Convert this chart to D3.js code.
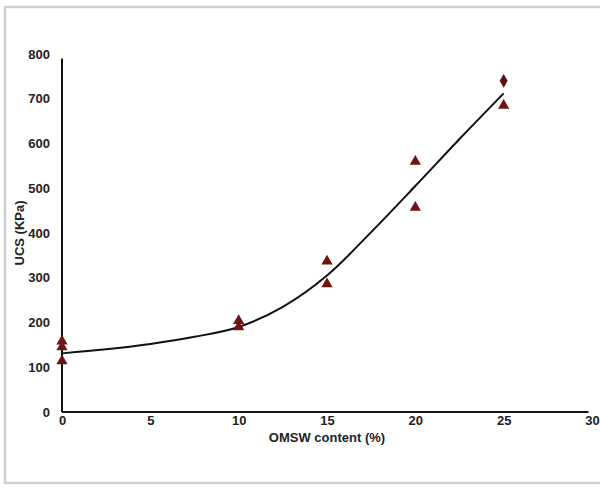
<!DOCTYPE html>
<html>
<head>
<meta charset="utf-8">
<script src="https://cdn.jsdelivr.net/npm/d3@7"></script>
<style>
  html, body { margin: 0; padding: 0; background: #fff; }
  svg { display: block; }
  text { font-family: "Liberation Sans", Arial, sans-serif; }
</style>
</head>
<body>
<script>
// ---- data ----
const xTicks = [0, 5, 10, 15, 20, 25, 30];
const yTicks = [0, 100, 200, 300, 400, 500, 600, 700, 800];
const triX = [0, 0, 0, 10, 10, 15, 15, 20, 20, 25];
const triY = [158, 145, 114, 204, 190, 337, 286, 560, 457, 685];
const diamondX = [25];
const diamondY = [740];
const fitX = [0, 2.5, 5, 7.5, 10, 12.5, 15, 17.5, 20, 22.5, 25];
const fitY = [131, 140, 152, 168, 190, 235, 305, 402, 505, 610, 712];

const W = 600, H = 487;
const svg = d3.select("body").append("svg").attr("width", W).attr("height", H);

// outer frame
svg.append("rect").attr("x", 5).attr("y", 7).attr("width", 620).attr("height", 476)
  .attr("fill", "#fff").attr("stroke", "#cfcfcf").attr("stroke-width", 2.5);

const x = d3.scaleLinear().domain([0, 30]).range([62, 592]);
const y = d3.scaleLinear().domain([0, 800]).range([412, 54]);

// axes
const gx = svg.append("g").attr("transform", `translate(0,${y(0)})`)
  .call(d3.axisBottom(x).tickValues(xTicks).tickSize(0).tickPadding(4));
gx.select(".domain").attr("stroke", "#111").attr("stroke-width", 2).attr("d", `M${x(0)},0H${x(29.8)}`);
gx.selectAll("text").attr("font-size", 13).attr("font-weight", "bold").attr("fill", "#222");

const gy = svg.append("g").attr("transform", `translate(${x(0)},0)`)
  .call(d3.axisLeft(y).tickValues(yTicks).tickSize(0).tickPadding(12));
gy.select(".domain").attr("stroke", "#111").attr("stroke-width", 2).attr("d", `M0,${y(0)}V${y(790)}`);
gy.selectAll("text").attr("font-size", 13).attr("font-weight", "bold").attr("fill", "#222");

// axis titles
svg.append("text").attr("x", (x(0) + x(30)) / 2).attr("y", 442)
  .attr("text-anchor", "middle").attr("font-size", 13).attr("font-weight", "bold").attr("fill", "#222")
  .text("OMSW content (%)");
svg.append("text").attr("transform", `translate(24,${y(400)}) rotate(-90)`)
  .attr("text-anchor", "middle").attr("font-size", 13).attr("font-weight", "bold").attr("fill", "#222")
  .text("UCS (KPa)");

// fit curve
const fit = fitX.map((d, i) => [d, fitY[i]]);
svg.append("path").datum(fit)
  .attr("fill", "none").attr("stroke", "#111").attr("stroke-width", 2)
  .attr("d", d3.line().x(d => x(d[0])).y(d => y(d[1])).curve(d3.curveCatmullRom.alpha(0.5)));

// triangles
const tri = d3.symbol().type(d3.symbolTriangle).size(55);
svg.append("g").selectAll("path").data(triX.map((d, i) => [d, triY[i]])).join("path")
  .attr("d", tri).attr("transform", d => `translate(${x(d[0])},${y(d[1])})`)
  .attr("fill", "#6e1414");

// diamond
const dia = d3.symbol().type(d3.symbolDiamond).size(55);
svg.append("g").selectAll("path").data(diamondX.map((d, i) => [d, diamondY[i]])).join("path")
  .attr("d", dia).attr("transform", d => `translate(${x(d[0])},${y(d[1])})`)
  .attr("fill", "#5a0f14");
</script>
</body>
</html>
